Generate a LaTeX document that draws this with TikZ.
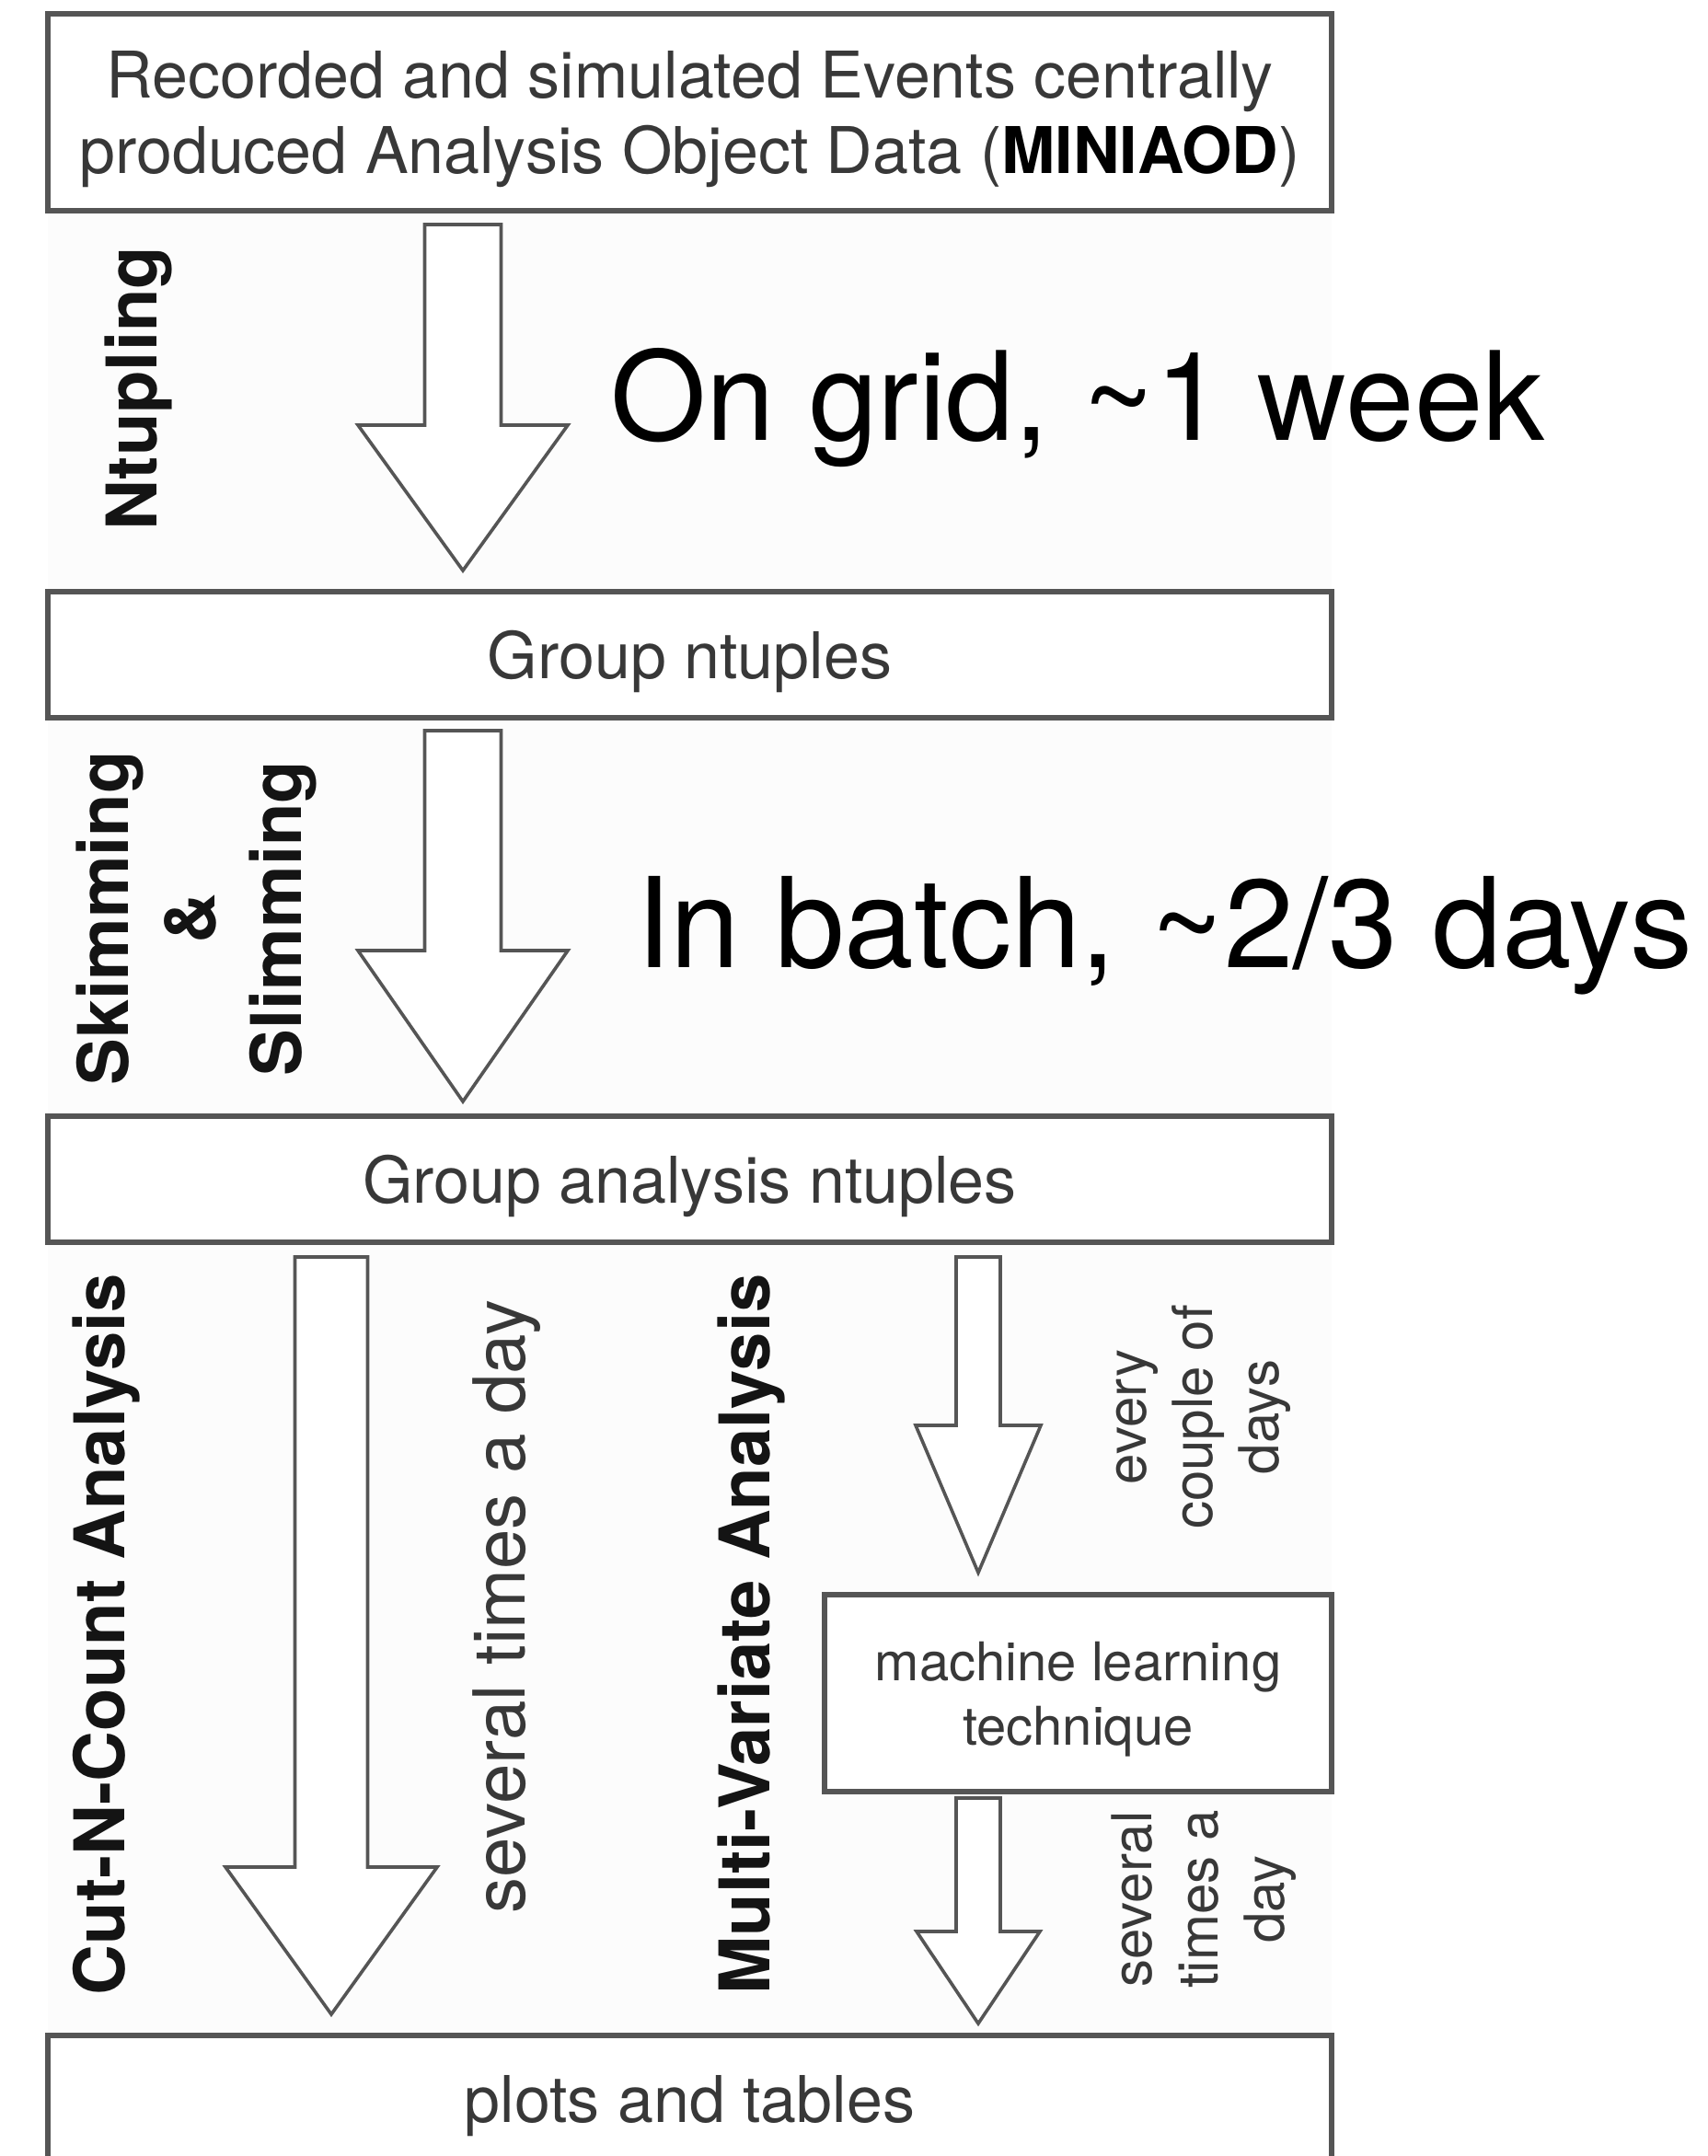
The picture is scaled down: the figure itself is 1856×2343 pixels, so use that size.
\documentclass[tikz,border=0pt]{standalone}
\usepackage{fontspec}
\setmainfont{TeX Gyre Heros}
\usetikzlibrary{calc}
\definecolor{edgegray}{HTML}{555555}
\definecolor{boxtext}{HTML}{383838}
\definecolor{paneltint}{HTML}{FCFCFC}
\tikzset{
  stage/.style={draw=edgegray, line width=2.8pt, fill=white, inner sep=0pt, outer sep=0pt,
    text=boxtext, align=center, text depth=0pt, font=\fontsize{35}{41}\selectfont},
  phase/.style={rotate=90, align=center, text=black!92,
    font=\bfseries\fontsize{38}{47}\selectfont},
  cadence/.style={rotate=90, align=center, text=boxtext},
  timing/.style={anchor=base west, text=black, font=\fontsize{67}{80}\selectfont},
  % hollow block arrow: shaft half-width, head half-width, head length
  flow/.style n args={3}{draw=edgegray, line width=1.8pt, fill=white, line join=miter,
    to path={let \p1=(\tikztostart), \p2=(\tikztotarget) in
      (\x1-#1,\y1) -- (\x1-#1,\y2+#3) -- (\x1-#2,\y2+#3) -- (\x1,\y2)
      -- (\x1+#2,\y2+#3) -- (\x1+#1,\y2+#3) -- (\x1+#1,\y1) -- cycle}},
}
\begin{document}
\begin{tikzpicture}[x=0.5pt, y=-0.5pt]
\useasboundingbox (0,0) rectangle (1856,2343);
\clip (0,0) rectangle (1856,2343);
\fill[white] (0,0) rectangle (1856,2343);
\fill[paneltint] (52,229) rectangle (1447,2343);

% processing stages
\node[stage, minimum width=697.5pt, minimum height=107pt] (src) at (749.5,122)
  {Recorded and simulated Events centrally\\produced Analysis Object Data (\textcolor{black}{\textbf{MINIAOD}})};
\node[stage, minimum width=697.5pt, minimum height=68.5pt] (grp) at (749.5,711.5) {Group ntuples};
\node[stage, minimum width=697.5pt, minimum height=68.5pt] (ana) at (749.5,1281.5) {Group analysis ntuples};
\node[stage, minimum width=275.5pt, minimum height=107pt, font=\fontsize{29}{35}\selectfont] (mlt) at (1171.5,1840)
  {machine learning\\technique};
\node[stage, minimum width=697.5pt, minimum height=68.5pt] (out) at (749.5,2280.5) {plots and tables};

% arrow end points
\coordinate (f1s) at (503,244);  \coordinate (f1e) at (503,620);
\coordinate (f2s) at (503,794);  \coordinate (f2e) at (503,1197);
\coordinate (f3s) at (360,1366); \coordinate (f3e) at (360,2189);
\coordinate (f4s) at (1063,1366); \coordinate (f4e) at (1063,1709);
\coordinate (f5s) at (1063,1954); \coordinate (f5e) at (1063,2199);

\draw[flow={20.75pt}{57pt}{79pt}] (f1s) to (f1e);
\draw[flow={20.75pt}{57pt}{82pt}] (f2s) to (f2e);
\draw[flow={19.75pt}{57.5pt}{80pt}] (f3s) to (f3e);
\draw[flow={12pt}{34pt}{80pt}] (f4s) to (f4e);
\draw[flow={12pt}{33.5pt}{50pt}] (f5s) to (f5e);

% step names
\node[phase] (ntp) at (150,422) {Ntupling};
\node[phase] (sks) at (213,998) {Skimming\\\&\\Slimming};
\node[phase] (cnc) at (116,1776) {Cut-N-Count Analysis};
\node[phase] (mva) at (816,1776) {Multi-Variate Analysis};

% how often each step runs
\node[cadence, font=\fontsize{39}{45}\selectfont] (c1) at (551,1746) {several times a day};
\node[cadence, font=\fontsize{30}{36}\selectfont] (c2) at (1308,1540) {every\\couple of\\days};
\node[cadence, font=\fontsize{30}{36}\selectfont] (c3) at (1308,2064) {several\\times a\\day};

% turnaround times
\node[timing] (t1) at (656,478) {On grid, \textasciitilde1 week};
\node[timing, font=\fontsize{68}{80}\selectfont] (t2) at (684,1051) {In batch, \textasciitilde2/3 days};
\end{tikzpicture}
\end{document}
